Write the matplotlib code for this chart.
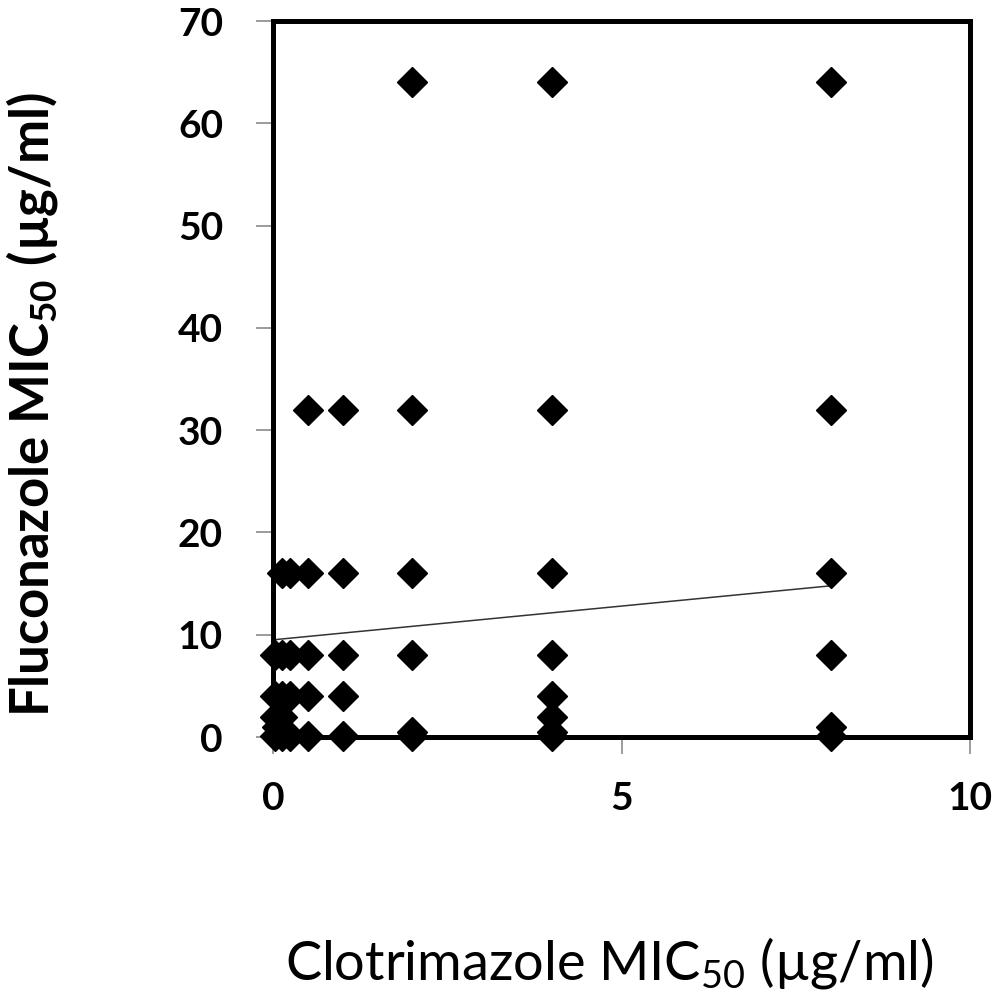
import matplotlib
matplotlib.use('Agg')
import matplotlib.pyplot as plt
import numpy as np

# clotrimazole MIC50 (x) and fluconazole MIC50 (y), one entry per isolate
clotrimazole = [2, 4, 8,
                0.5, 1, 2, 4, 8,
                0.125, 0.25, 0.5, 1, 2, 4, 8,
                0.03, 0.125, 0.25, 0.5, 1, 2, 4, 8,
                0.03, 0.125, 0.25, 0.5, 1, 4,
                0.03, 0.125, 4,
                0.06, 8,
                2, 4,
                0.03, 0.125, 0.25, 0.5, 1, 2, 4, 8]
fluconazole = [64, 64, 64,
               32, 32, 32, 32, 32,
               16, 16, 16, 16, 16, 16, 16,
               8, 8, 8, 8, 8, 8, 8, 8,
               4, 4, 4, 4, 4, 4,
               2, 2, 2,
               1, 1,
               0.5, 0.5,
               0.125, 0.125, 0.125, 0.125, 0.125, 0.125, 0.125, 0.125]

# linear trend line
trend_slope = 0.66
trend_intercept = 9.5

x_ticks = [0, 5, 10]
y_ticks = [0, 10, 20, 30, 40, 50, 60, 70]

plt.rcParams['font.family'] = ['Lato', 'DejaVu Sans']
plt.rcParams['mathtext.fontset'] = 'custom'
plt.rcParams['mathtext.rm'] = 'Lato'
plt.rcParams['mathtext.bf'] = 'Lato:bold'

fig = plt.figure(figsize=(10, 9.94), dpi=100)
ax = fig.add_axes([0.273, 1 - 737 / 994, 0.697, 716 / 994])

xs = np.array(clotrimazole)
tx = np.array([xs.min(), xs.max()])
ax.plot(tx, trend_slope * tx + trend_intercept, color='#333333', lw=1.1, zorder=2)
ax.plot(clotrimazole, fluconazole, linestyle='none', marker='D', markersize=15,
        color='black', zorder=3, clip_on=False)

ax.set_xlim(0, 10)
ax.set_ylim(0, 70)
ax.set_xticks(x_ticks)
ax.set_yticks(y_ticks)

for s in ax.spines.values():
    s.set_linewidth(3.6)
    s.set_color('black')

ax.tick_params(axis='both', direction='out', length=12, width=1.2, color='#8a8a8a',
               labelsize=28)
ax.tick_params(axis='y', pad=24)
ax.tick_params(axis='x', pad=20)
for lab in ax.get_xticklabels() + ax.get_yticklabels():
    lab.set_fontweight('bold')

ax.set_xlabel(r'Clotrimazole MIC$_{\mathrm{50}}$ (µg/ml)', fontsize=39, va='center')
ax.xaxis.set_label_coords(0.483, -0.316)
ax.set_ylabel(r'Fluconazole MIC$_{\mathbf{50}}$ (µg/ml)', fontsize=38,
              fontweight='bold', va='center')
ax.yaxis.set_label_coords(-0.346, 0.464)

fig.savefig('out.png', dpi=100)
